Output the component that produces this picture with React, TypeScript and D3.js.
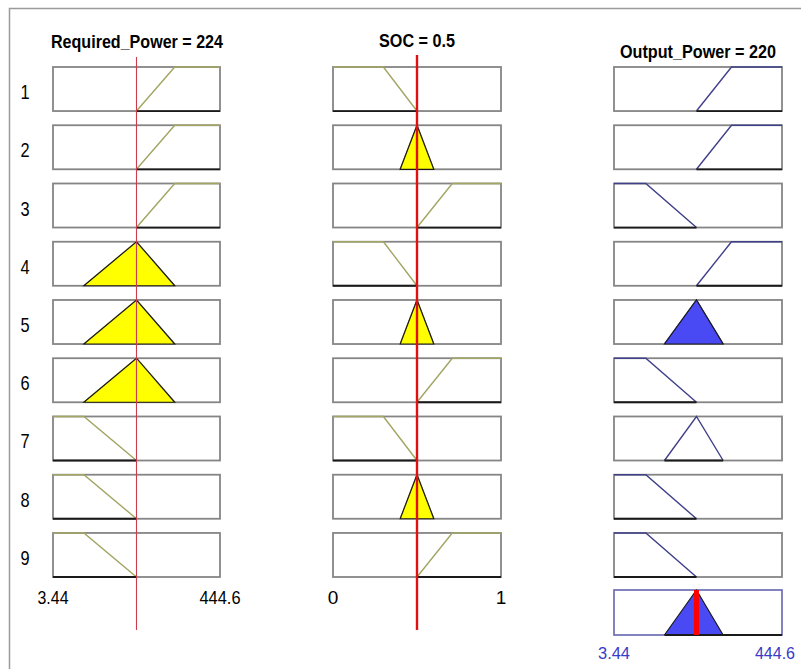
import * as d3 from 'd3';

// fuzzy rule viewer: Required_Power, SOC -> Output_Power
const ruleIds = [1, 2, 3, 4, 5, 6, 7, 8, 9];

const rpRange = [3.44, 444.6];
const socRange = [0, 1];
const outRange = [3.44, 444.6];

const rpValue = 224;
const socValue = 0.5;
const outValue = 220;

// membership functions (trapmf = 4 params, trimf = 3 params)
const rpLow = [3.44, 3.44, 85, 224];
const rpMedium = [85, 224, 325];
const rpHigh = [224, 325, 444.6, 444.6];

const socLow = [0, 0, 0.3, 0.5];
const socMedium = [0.4, 0.5, 0.6];
const socHigh = [0.5, 0.71, 1, 1];

const outLow = [3.44, 3.44, 87, 220];
const outMedium = [136, 220, 290];
const outHigh = [220, 312, 444.6, 444.6];

const ruleRP = ['high', 'high', 'high', 'medium', 'medium', 'medium', 'low', 'low', 'low'];
const ruleSOC = ['low', 'medium', 'high', 'low', 'medium', 'high', 'low', 'medium', 'high'];
const ruleOut = ['high', 'high', 'low', 'high', 'medium', 'low', 'medium', 'low', 'low'];

const rpMfs: Record<string, number[]> = { low: rpLow, medium: rpMedium, high: rpHigh };
const socMfs: Record<string, number[]> = { low: socLow, medium: socMedium, high: socHigh };
const outMfs: Record<string, number[]> = { low: outLow, medium: outMedium, high: outHigh };

const W = 801;
const H = 669;

const toTrap = (p: number[]) => (p.length === 3 ? [p[0], p[1], p[1], p[2]] : p);

const mu = (p: number[], x: number) => {
  const [a, b, c, d] = toTrap(p);
  if (x < a || x > d) return 0;
  if (x >= b && x <= c) return 1;
  if (x < b) return b === a ? 1 : (x - a) / (b - a);
  return d === c ? 1 : (d - x) / (d - c);
};

// vertices of the mf, clipped at level h
const clipped = (p: number[], h: number): [number, number][] => {
  const [a, b, c, d] = toTrap(p);
  return [
    [a, 0],
    [a + (b - a) * h, h],
    [d - (d - c) * h, h],
    [d, 0],
  ];
};

// mf outline over its support only
const curve = (p: number[]): [number, number][] => {
  const [a, b, c, d] = toTrap(p);
  return [[a, a === b ? 1 : 0], [b, 1], [c, 1], [d, c === d ? 1 : 0]];
};

const rows = d3.scaleBand<number>().domain(ruleIds).range([67, 577]).paddingInner(0.244).paddingOuter(0);
const yIn = d3.scaleLinear().domain([0, 1]).range([rows.bandwidth(), 0]);

const xRP = d3.scaleLinear().domain(rpRange).range([53, 220]);
const xSOC = d3.scaleLinear().domain(socRange).range([333, 501]);
const xOut = d3.scaleLinear().domain(outRange).range([614, 782]);

const strengths = ruleIds.map((_, i) =>
  Math.min(mu(rpMfs[ruleRP[i]], rpValue), mu(socMfs[ruleSOC[i]], socValue))
);

const aggY = 590;
const aggH = 45;
const yAgg = d3.scaleLinear().domain([0, 1]).range([aggY + aggH, aggY]);
const aggSamples = d3.range(0, 301).map((k) => outRange[0] + ((outRange[1] - outRange[0]) * k) / 300);
const aggPoints: [number, number][] = aggSamples.map((x) => [
  x,
  d3.max(ruleIds.map((_, i) => Math.min(strengths[i], mu(outMfs[ruleOut[i]], x)))) ?? 0,
]);

const font = '"Liberation Sans", Arial, sans-serif';

const Cell = ({ x, top, p, level, lo, hi, lineColor, fill }: any) => {
  const line = d3.line<[number, number]>().x((d) => x(d[0])).y((d) => top + yIn(d[1]));
  const pts = clipped(p, level);
  const patch = pts.map((d) => `${x(d[0])},${top + yIn(d[1])}`).join(' ');
  return (
    <g>
      <rect x={x(lo)} y={top} width={x(hi) - x(lo)} height={rows.bandwidth()} fill="#fff" stroke="#858585" strokeWidth={1.8} />
      <path d={line(curve(p)) ?? ''} fill="none" stroke={lineColor} strokeWidth={1.4} />
      <polygon points={patch} fill={fill} stroke="#1a1a1a" strokeWidth={level > 0 ? 1.2 : 1.8} />
    </g>
  );
};

export default function App() {
  const aggArea = d3
    .area<[number, number]>()
    .x((d) => xOut(d[0]))
    .y0(yAgg(0))
    .y1((d) => yAgg(d[1]));
  return (
    <svg width={W} height={H} style={{ position: 'absolute', left: 0, top: 0, background: '#fff' }}>
      <rect width={W} height={H} fill="#fff" />
      <path d={`M9.5,${H} V8.5 H${W}`} fill="none" stroke="#9a9a9a" strokeWidth={1.5} />

      {ruleIds.map((r, i) => {
        const top = rows(r) ?? 0;
        return (
          <g key={r}>
            <text x={25} y={top + rows.bandwidth() / 2 + 10} textAnchor="middle" fontFamily={font} fontSize={20} transform={`translate(25,0) scale(0.82,1) translate(-25,0)`}>
              {r}
            </text>
            <Cell x={xRP} top={top} p={rpMfs[ruleRP[i]]} level={mu(rpMfs[ruleRP[i]], rpValue)} lo={rpRange[0]} hi={rpRange[1]} lineColor="#a3a562" fill="#ffff00" />
            <Cell x={xSOC} top={top} p={socMfs[ruleSOC[i]]} level={mu(socMfs[ruleSOC[i]], socValue)} lo={socRange[0]} hi={socRange[1]} lineColor="#a3a562" fill="#ffff00" />
            <Cell x={xOut} top={top} p={outMfs[ruleOut[i]]} level={strengths[i]} lo={outRange[0]} hi={outRange[1]} lineColor="#40408a" fill="#4a4af5" />
          </g>
        );
      })}

      {/* titles */}
      <text x={137} y={48} textAnchor="middle" fontFamily={font} fontWeight="bold" fontSize={19} textLength={172} lengthAdjust="spacingAndGlyphs">
        Required_Power = 224
      </text>
      <text x={417} y={47} textAnchor="middle" fontFamily={font} fontWeight="bold" fontSize={19} textLength={76} lengthAdjust="spacingAndGlyphs">
        SOC = 0.5
      </text>
      <text x={698} y={58} textAnchor="middle" fontFamily={font} fontWeight="bold" fontSize={18} textLength={156} lengthAdjust="spacingAndGlyphs">
        Output_Power = 220
      </text>

      {/* aggregated output */}
      <rect x={xOut(outRange[0])} y={aggY} width={xOut(outRange[1]) - xOut(outRange[0])} height={aggH} fill="#fff" stroke="#6464b0" strokeWidth={1.6} />
      <path d={aggArea(aggPoints) ?? ''} fill="#4a4af5" stroke="none" />
      <path d={`M${xOut(outMedium[0])},${yAgg(0)} L${xOut(outMedium[1])},${yAgg(1)} L${xOut(outMedium[2])},${yAgg(0)}`} fill="none" stroke="#1a1a1a" strokeWidth={1.2} />
      <line x1={xOut(outMedium[0])} x2={xOut(outRange[1])} y1={yAgg(0)} y2={yAgg(0)} stroke="#1a1a1a" strokeWidth={1.8} />
      <line x1={xOut(outValue)} x2={xOut(outValue)} y1={aggY} y2={aggY + aggH} stroke="#ff0000" strokeWidth={5} />

      {/* input value markers */}
      <line x1={xRP(rpValue)} x2={xRP(rpValue)} y1={57} y2={630} stroke="#cc3b4e" strokeWidth={1.1} />
      <line x1={xSOC(socValue)} x2={xSOC(socValue)} y1={55} y2={630} stroke="#e01010" strokeWidth={2.4} />

      {/* range labels */}
      <text x={xRP(rpRange[0])} y={604} textAnchor="middle" fontFamily={font} fontSize={19} textLength={31} lengthAdjust="spacingAndGlyphs">3.44</text>
      <text x={xRP(rpRange[1])} y={604} textAnchor="middle" fontFamily={font} fontSize={19} textLength={41} lengthAdjust="spacingAndGlyphs">444.6</text>
      <text x={xSOC(socRange[0])} y={604} textAnchor="middle" fontFamily={font} fontSize={19}>0</text>
      <text x={xSOC(socRange[1])} y={604} textAnchor="middle" fontFamily={font} fontSize={19}>1</text>
      <text x={xOut(outRange[0])} y={659} textAnchor="middle" fontFamily={font} fontSize={17} fill="#3a3ac8" textLength={32} lengthAdjust="spacingAndGlyphs">3.44</text>
      <text x={795} y={659} textAnchor="end" fontFamily={font} fontSize={16} fill="#3a3ac8">444.6</text>
    </svg>
  );
}
